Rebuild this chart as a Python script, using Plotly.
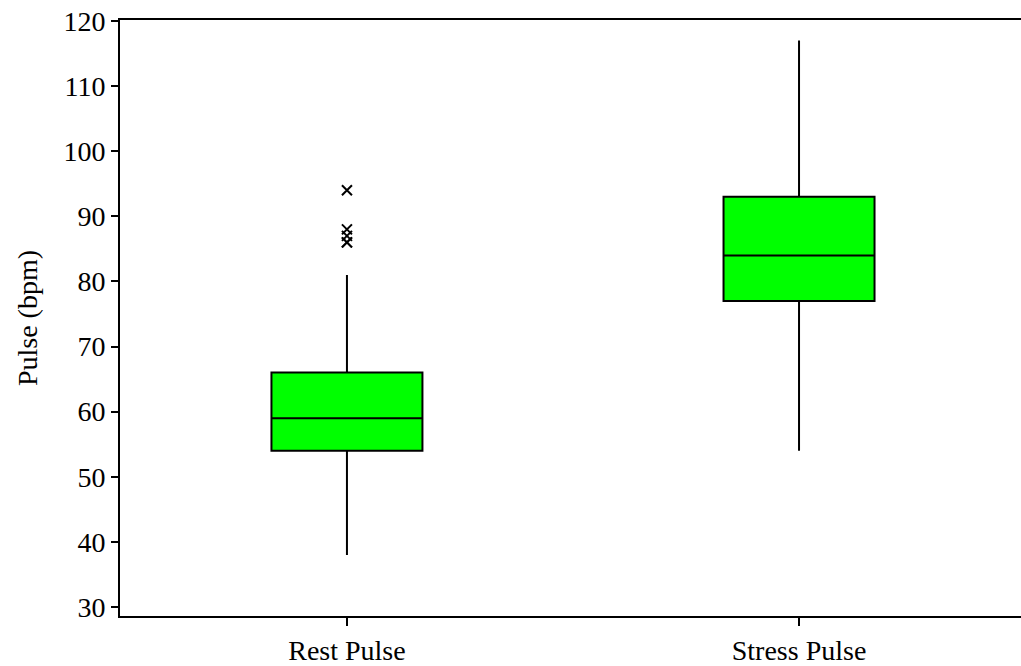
import plotly.graph_objects as go

categories = ["Rest Pulse", "Stress Pulse"]
lower_whisker = [38, 54]
q1 = [54, 77]
median = [59, 84]
q3 = [66, 93]
upper_whisker = [81, 117]

outlier_category = ["Rest Pulse", "Rest Pulse", "Rest Pulse", "Rest Pulse", "Rest Pulse"]
outlier_values = [86, 86, 87, 88, 94]

y_ticks = [30, 40, 50, 60, 70, 80, 90, 100, 110, 120]

font_family = "Liberation Serif, Times New Roman, serif"
fs = 28

fig = go.Figure()
fig.add_trace(go.Box(
    x=categories,
    q1=q1, median=median, q3=q3,
    lowerfence=lower_whisker, upperfence=upper_whisker,
    fillcolor="#00FF00",
    line=dict(color="black", width=2),
    whiskerwidth=0,
    width=0.334,
    boxpoints=False,
    showlegend=False,
    hoverinfo="skip",
))
fig.add_trace(go.Scatter(
    x=outlier_category, y=outlier_values,
    mode="markers",
    marker=dict(symbol="x-thin-open", size=10, color="black",
                line=dict(color="black", width=2)),
    showlegend=False,
))

fig.update_layout(
    width=1021, height=666,
    margin=dict(l=120, r=0, t=20, b=47),
    plot_bgcolor="white", paper_bgcolor="white",
    font=dict(family=font_family, size=fs, color="black"),
)
fig.update_xaxes(
    type="category",
    range=[-0.502, 1.491],
    showline=True, linecolor="black", linewidth=2, mirror=True,
    ticks="outside", ticklen=8, tickwidth=2, tickcolor="black",
    showgrid=False, zeroline=False,
    tickfont=dict(family=font_family, size=fs, color="black"),
)
fig.update_yaxes(
    range=[28.62, 120.15],
    tickvals=y_ticks,
    showline=True, linecolor="black", linewidth=2, mirror=False,
    ticks="outside", ticklen=7, tickwidth=2, tickcolor="black",
    showgrid=False, zeroline=False,
    title=dict(text="Pulse (bpm)", font=dict(family=font_family, size=fs, color="black"), standoff=18),
    tickfont=dict(family=font_family, size=fs, color="black"),
)

fig.write_html("out.html", config={"displayModeBar": False},
               post_script="document.body.style.margin='0';document.body.style.overflow='hidden';")
